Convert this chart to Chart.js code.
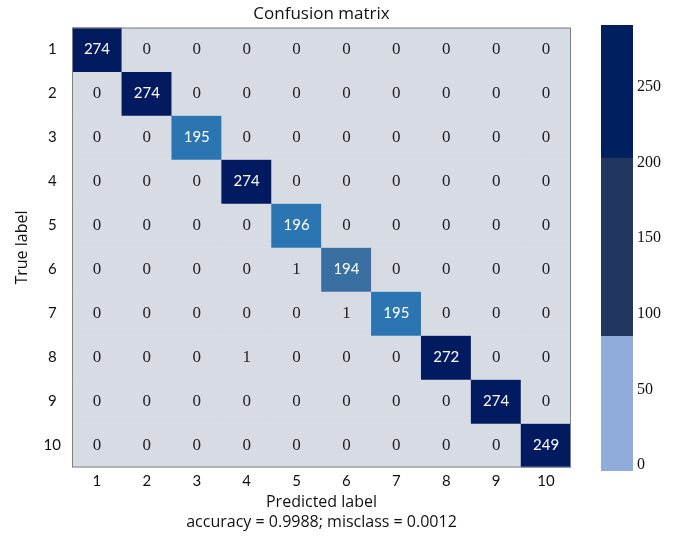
<!DOCTYPE html>
<html>
<head>
<meta charset="utf-8">
<script src="https://cdn.jsdelivr.net/npm/chart.js@4.4.1/dist/chart.umd.min.js"></script>
<style>
  html, body { margin: 0; padding: 0; background: #ffffff; }
  #wrap { position: relative; width: 685px; height: 536px; }
  #main { position: absolute; left: 0; top: 0; }
  #cbar { position: absolute; left: 590px; top: 0; }
</style>
</head>
<body>
<div id="wrap">
  <canvas id="main" width="590" height="536"></canvas>
  <canvas id="cbar" width="95" height="536"></canvas>
</div>
<script>
// ---- data ----
const predictedLabels = ['1','2','3','4','5','6','7','8','9','10'];
const trueLabels = ['1','2','3','4','5','6','7','8','9','10'];
const row1  = [274, 0, 0, 0, 0, 0, 0, 0, 0, 0];
const row2  = [0, 274, 0, 0, 0, 0, 0, 0, 0, 0];
const row3  = [0, 0, 195, 0, 0, 0, 0, 0, 0, 0];
const row4  = [0, 0, 0, 274, 0, 0, 0, 0, 0, 0];
const row5  = [0, 0, 0, 0, 196, 0, 0, 0, 0, 0];
const row6  = [0, 0, 0, 0, 1, 194, 0, 0, 0, 0];
const row7  = [0, 0, 0, 0, 0, 1, 195, 0, 0, 0];
const row8  = [0, 0, 0, 1, 0, 0, 0, 272, 0, 0];
const row9  = [0, 0, 0, 0, 0, 0, 0, 0, 274, 0];
const row10 = [0, 0, 0, 0, 0, 0, 0, 0, 0, 249];
const matrix = [row1,row2,row3,row4,row5,row6,row7,row8,row9,row10];
const colorbarBounds = [-4, 85, 203, 291];
const colorbarColors = ['#8facdb', '#213760', '#001f5e'];
const colorbarTicks = [0, 50, 100, 150, 200, 250];
const accuracyText = 'accuracy = 0.9988; misclass = 0.0012';

function cellColor(v) {
  if (v >= 200) return '#021b60';
  if (v >= 195) return '#2b75b3';
  if (v >= 100) return '#3a6fa1';
  return '#d6dbe4';
}

const SANS = 'Lato, "Open Sans", sans-serif';
const WIDE = '"Open Sans", Lato, sans-serif';
const SERIF = '"Liberation Serif", "DejaVu Serif", serif';

const datasets = matrix.map((row, r) => ({
  label: trueLabels[r],
  data: row.map(() => [r + 1 - 0.5, r + 1 + 0.5]),
  backgroundColor: (ctx) => cellColor(matrix[ctx.datasetIndex][ctx.dataIndex]),
  borderWidth: 0,
  barPercentage: 1.0,
  categoryPercentage: 1.0,
  grouped: false
}));

const cellTextPlugin = {
  id: 'cellText',
  afterDatasetsDraw(chart) {
    const ctx = chart.ctx;
    const xs = chart.scales.x, ys = chart.scales.y;
    ctx.save();
    ctx.textAlign = 'center';
    ctx.textBaseline = 'middle';
    matrix.forEach((row, r) => {
      row.forEach((v, c) => {
        const x = xs.getPixelForValue(c);
        const y = ys.getPixelForValue(r + 1);
        if (v >= 100) {
          ctx.fillStyle = '#ffffff';
          ctx.font = '15px ' + SANS;
        } else {
          ctx.fillStyle = '#222222';
          ctx.font = '17px ' + SERIF;
        }
        ctx.fillText(String(v), x, y);
      });
    });
    const a = chart.chartArea;
    ctx.strokeStyle = '#808080';
    ctx.lineWidth = 1;
    ctx.strokeRect(a.left + 0.5, a.top + 0.5, a.right - a.left - 1, a.bottom - a.top - 1);
    ctx.restore();
  }
};

new Chart(document.getElementById('main'), {
  type: 'bar',
  data: { labels: predictedLabels, datasets },
  options: {
    responsive: false,
    animation: false,
    layout: { padding: { left: 0, right: 19, top: 0, bottom: 0 } },
    plugins: {
      legend: { display: false },
      tooltip: { enabled: false },
      title: {
        display: true,
        text: 'Confusion matrix',
        fullSize: false,
        color: '#111111',
        font: { family: WIDE, size: 17, weight: 'normal', lineHeight: 1.15 },
        padding: { top: 4, bottom: 4 }
      }
    },
    scales: {
      x: {
        type: 'category',
        offset: true,
        grid: { display: false, drawTicks: false },
        border: { display: false },
        ticks: { color: '#111111', font: { family: SANS, size: 15 }, padding: 5, maxRotation: 0 },
        title: {
          display: true,
          text: ['Predicted label', accuracyText],
          color: '#111111',
          font: { family: WIDE, size: 16, lineHeight: 1.25 },
          padding: { top: 0, bottom: 4 }
        },
        afterFit(scale) { scale.height = 68.5; }
      },
      y: {
        type: 'linear',
        min: 0.5,
        max: 10.5,
        reverse: true,
        grid: { display: false, drawTicks: false },
        border: { display: false },
        afterBuildTicks(scale) { scale.ticks = trueLabels.map((_, i) => ({ value: i + 1 })); },
        ticks: {
          color: '#111111',
          font: { family: SANS, size: 15 },
          padding: 11,
          crossAlign: 'center',
          callback: (v) => trueLabels[v - 1]
        },
        title: {
          display: true,
          text: 'True label',
          color: '#111111',
          font: { family: WIDE, size: 16, lineHeight: 1.25 },
          padding: { top: 12, bottom: 0 }
        },
        afterFit(scale) { scale.width = 72; }
      }
    }
  },
  plugins: [cellTextPlugin]
});

// ---- colorbar ----
const cbDatasets = colorbarColors.map((col, i) => ({
  data: [[colorbarBounds[i], colorbarBounds[i + 1]]],
  backgroundColor: col,
  borderWidth: 0,
  barPercentage: 1.0,
  categoryPercentage: 1.0,
  grouped: false
}));

new Chart(document.getElementById('cbar'), {
  type: 'bar',
  data: { labels: [''], datasets: cbDatasets },
  options: {
    responsive: false,
    animation: false,
    layout: { padding: { left: 11, right: 0, top: 25, bottom: 0 } },
    plugins: { legend: { display: false }, tooltip: { enabled: false } },
    scales: {
      x: {
        display: true,
        grid: { display: false, drawTicks: false },
        border: { display: false },
        ticks: { display: false },
        afterFit(scale) { scale.height = 65; }
      },
      y: {
        position: 'right',
        min: colorbarBounds[0],
        max: colorbarBounds[colorbarBounds.length - 1],
        grid: { display: false, drawTicks: false },
        border: { display: false },
        afterBuildTicks(scale) { scale.ticks = colorbarTicks.map(v => ({ value: v })); },
        ticks: { color: '#111111', font: { family: SERIF, size: 16 }, padding: 4 },
        afterFit(scale) { scale.width = 52; }
      }
    }
  }
});
</script>
</body>
</html>
